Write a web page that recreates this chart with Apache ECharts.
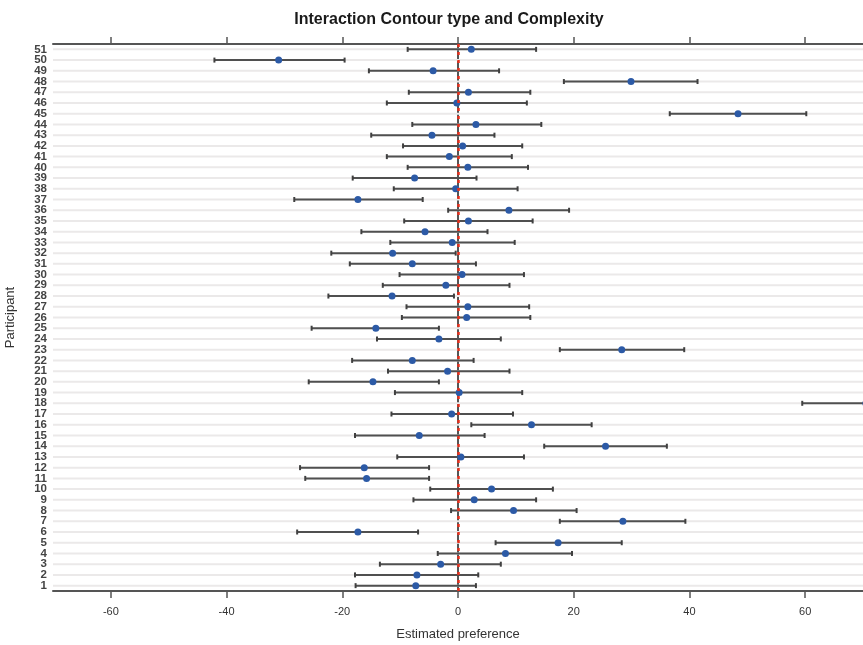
<!DOCTYPE html>
<html>
<head>
<meta charset="utf-8">
<title>Interaction Contour type and Complexity</title>
<script src="https://cdn.jsdelivr.net/npm/echarts@6/dist/echarts.min.js"></script>
<style>
  html, body { margin: 0; padding: 0; background: #ffffff; }
  #chart { width: 863px; height: 645px; }
</style>
</head>
<body>
<div id="chart"></div>
<script>
// Participants, bottom (1) to top (51)
const participants = ['1','2','3','4','5','6','7','8','9','10','11','12','13','14','15','16','17','18','19','20',
  '21','22','23','24','25','26','27','28','29','30','31','32','33','34','35','36','37','38','39','40',
  '41','42','43','44','45','46','47','48','49','50','51'];

// Point estimate of preference per participant
const estimate = [-7.3, -7.1, -3.0, 8.2, 17.3, -17.3, 28.5, 9.6, 2.8, 5.8,
  -15.8, -16.2, 0.5, 25.5, -6.7, 12.7, -1.1, 70.5, 0.2, -14.7,
  -1.8, -7.9, 28.3, -3.3, -14.2, 1.5, 1.7, -11.4, -2.1, 0.7,
  -7.9, -11.3, -1.0, -5.7, 1.8, 8.8, -17.3, -0.4, -7.5, 1.7,
  -1.5, 0.8, -4.5, 3.1, 48.4, -0.2, 1.8, 29.9, -4.3, -31.0, 2.3];

// Lower bound of the interval
const lower = [-17.7, -17.8, -13.5, -3.5, 6.5, -27.8, 17.6, -1.2, -7.7, -4.8,
  -26.4, -27.3, -10.5, 14.9, -17.8, 2.3, -11.5, 59.5, -10.9, -25.8,
  -12.1, -18.3, 17.6, -14.0, -25.3, -9.7, -8.9, -22.4, -13.0, -10.1,
  -18.7, -21.9, -11.7, -16.7, -9.3, -1.7, -28.3, -11.1, -18.2, -8.7,
  -12.3, -9.5, -15.0, -7.9, 36.6, -12.3, -8.5, 18.3, -15.4, -42.1, -8.7];

// Upper bound of the interval
const upper = [3.1, 3.5, 7.4, 19.7, 28.3, -6.9, 39.3, 20.5, 13.5, 16.4,
  -5.0, -5.0, 11.4, 36.1, 4.6, 23.1, 9.5, 82.0, 11.1, -3.3,
  8.9, 2.7, 39.1, 7.4, -3.3, 12.5, 12.3, -0.7, 8.9, 11.4,
  3.1, -0.4, 9.8, 5.1, 12.9, 19.2, -6.1, 10.3, 3.2, 12.1,
  9.3, 11.1, 6.3, 14.4, 60.2, 11.9, 12.5, 41.4, 7.1, -19.6, 13.5];

// Labelled ticks on the preference axis
const xTicks = [-60, -40, -20, 0, 20, 40, 60];
const xRange = [-70, 70];

const rows = participants.map((p, i) => [i, lower[i], estimate[i], upper[i]]);

const chart = echarts.init(document.getElementById('chart'), null, { renderer: 'canvas' });

const axisColor = '#555555';
const font = 'Liberation Sans, Arial, sans-serif';

function renderRow(params, api) {
  const yi = api.value(0);
  const lo = api.coord([api.value(1), yi]);
  const mid = api.coord([api.value(2), yi]);
  const hi = api.coord([api.value(3), yi]);
  const cs = params.coordSys;
  const cap = 2.5;
  return {
    type: 'group',
    children: [
      { // row guide line
        type: 'line',
        shape: { x1: cs.x, y1: mid[1], x2: cs.x + cs.width, y2: mid[1] },
        style: { stroke: '#ebe9e9', lineWidth: 2 },
        z2: 0
      },
      {
        type: 'line',
        shape: { x1: lo[0], y1: lo[1], x2: hi[0], y2: hi[1] },
        style: { stroke: '#505050', lineWidth: 2 },
        z2: 2
      },
      {
        type: 'line',
        shape: { x1: lo[0], y1: lo[1] - cap, x2: lo[0], y2: lo[1] + cap },
        style: { stroke: '#404040', lineWidth: 2 },
        z2: 2
      },
      {
        type: 'line',
        shape: { x1: hi[0], y1: hi[1] - cap, x2: hi[0], y2: hi[1] + cap },
        style: { stroke: '#404040', lineWidth: 2 },
        z2: 2
      },
      {
        type: 'circle',
        shape: { cx: mid[0], cy: mid[1], r: 3.5 },
        style: { fill: '#2c5aa6' },
        z2: 4
      }
    ]
  };
}

chart.setOption({
  animation: false,
  backgroundColor: '#ffffff',
  title: {
    text: 'Interaction Contour type and Complexity',
    left: 444,
    top: 7,
    textAlign: 'center',
    textStyle: { fontFamily: font, fontSize: 16, fontWeight: 'bold', color: '#1a1a1a' }
  },
  grid: { left: 53, right: 0, top: 44, bottom: 54, containLabel: false, outerBoundsMode: 'none' },
  xAxis: [
    {
      type: 'value',
      position: 'bottom',
      min: xRange[0],
      max: xRange[1],
      name: 'Estimated preference',
      nameLocation: 'middle',
      nameGap: 37,
      nameTextStyle: { fontFamily: font, fontSize: 13, color: '#333' },
      axisLine: { show: true, onZero: false, lineStyle: { color: axisColor, width: 2 } },
      axisTick: { show: true, customValues: xTicks, length: 7, inside: false, lineStyle: { color: axisColor, width: 1.5 } },
      axisLabel: { customValues: xTicks, margin: 15, fontFamily: font, fontSize: 11, color: '#333' },
      splitLine: { show: false }
    },
    {
      type: 'value',
      position: 'top',
      min: xRange[0],
      max: xRange[1],
      axisLine: { show: true, onZero: false, lineStyle: { color: axisColor, width: 2 } },
      axisTick: { show: true, customValues: xTicks, length: 7, inside: false, lineStyle: { color: axisColor, width: 1.5 } },
      axisLabel: { show: false },
      splitLine: { show: false }
    }
  ],
  yAxis: {
    type: 'category',
    data: participants,
    boundaryGap: true,
    name: 'Participant',
    nameLocation: 'middle',
    nameGap: 36,
    nameTextStyle: { fontFamily: font, fontSize: 13, color: '#333' },
    axisLine: { show: true, lineStyle: { color: axisColor, width: 2 } },
    axisTick: { show: false },
    axisLabel: { interval: 0, margin: 6, fontFamily: font, fontSize: 11.5, fontWeight: 'bold', color: '#444', lineHeight: 10 },
    splitLine: { show: false }
  },
  series: [
    {
      type: 'custom',
      xAxisIndex: 0,
      renderItem: renderRow,
      encode: { x: [1, 2, 3], y: 0 },
      clip: true,
      data: rows,
      markLine: {
        silent: true,
        symbol: 'none',
        label: { show: false },
        lineStyle: { color: '#e8301c', width: 2.5, type: [3, 5] },
        data: [{ xAxis: 0 }]
      }
    }
  ]
});
</script>
</body>
</html>
